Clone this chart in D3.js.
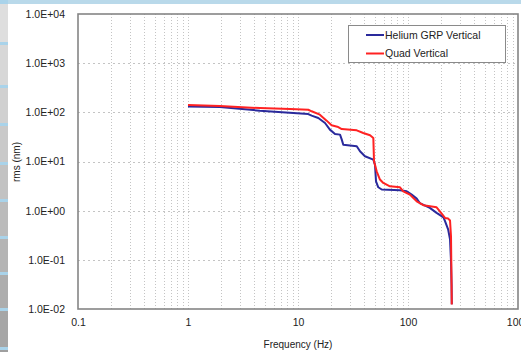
<!DOCTYPE html>
<html><head><meta charset="utf-8">
<script src="https://cdn.jsdelivr.net/npm/d3@7"></script>
<style>
html,body{margin:0;padding:0;background:#fff;}
svg{display:block;font-family:"Liberation Sans",Arial,sans-serif;}
</style></head>
<body>
<svg id="c" width="521" height="352"></svg>
<script>
// ---- data ----
const seriesNames = ["Helium GRP Vertical", "Quad Vertical"];
const heliumFreq = [1, 1.95, 4.5, 9.06, 12.4, 13.3, 15.3, 17.6, 19.5, 21.7, 24.1, 25.0, 25.8, 34.2, 36.6, 40.6, 48.4, 50.1, 51.2, 53.7, 57.7, 84.6, 97.3, 108, 120, 128, 158, 182, 210, 217, 232, 241, 246, 249, 250];
const heliumRms  = [131, 129, 108, 96.8, 92.3, 85.7, 76.6, 60.6, 44.5, 36.2, 35.2, 27.9, 22.0, 20.4, 16.1, 12.8, 10.9, 8.65, 3.96, 2.99, 2.69, 2.60, 2.48, 2.12, 1.76, 1.43, 1.14, 0.90, 0.73, 0.61, 0.41, 0.26, 0.094, 0.03, 0.0125];
const quadFreq = [1, 1.95, 4.5, 8.46, 12.4, 13.3, 15.8, 18.2, 20.2, 23.2, 25.0, 34.2, 39.2, 45.2, 48.4, 49.1, 51.9, 55.6, 59.6, 68.5, 84.6, 90.6, 104, 120, 138, 182, 195, 217, 232, 241, 246, 250];
const quadRms  = [141, 134, 122, 117, 113, 105, 89.8, 67.8, 54.4, 50.2, 45.8, 43.1, 38.0, 34.1, 30.1, 10.1, 6.32, 4.29, 3.66, 3.13, 2.99, 2.48, 2.12, 1.55, 1.29, 1.17, 0.97, 0.71, 0.69, 0.63, 0.3, 0.0123];
const xTickValues = [0.1, 1, 10, 100, 1000];
const xTickLabels = ["0.1", "1", "10", "100", "1000"];
const yTickValues = [0.01, 0.1, 1, 10, 100, 1000, 10000];
const yTickLabels = ["1.0E-02", "1.0E-01", "1.0E+00", "1.0E+01", "1.0E+02", "1.0E+03", "1.0E+04"];
const xTitle = "Frequency (Hz)";
const yTitle = "rms (nm)";
const colors = ["#2a2a9c", "#ff2222"];

// ---- drawing ----
const svg = d3.select("#c");
const L = 78, R = 518, T = 14, B = 309;

// slide decoration: left strip and top bar
svg.append("rect").attr("x",0).attr("y",0).attr("width",521).attr("height",4).attr("fill","#b9d9ea");
const sepY = [0, 43, 86, 124, 163, 200, 237, 273, 309, 348, 352];
for (let i = 0; i < sepY.length - 1; i++) {
  const g = 222 - i * 7;
  svg.append("rect").attr("x",0).attr("y",sepY[i]).attr("width",8).attr("height",sepY[i+1]-sepY[i])
    .attr("fill", d3.rgb(g, g, g));
  if (i > 0) svg.append("rect").attr("x",0).attr("y",sepY[i]-1).attr("width",8).attr("height",3).attr("fill","#a9d3ea");
}
svg.append("rect").attr("x",0).attr("y",0).attr("width",8).attr("height",4).attr("fill","#a9d3ea");

const x = d3.scaleLog().domain([0.1, 1000]).range([L, R]);
const y = d3.scaleLog().domain([0.01, 10000]).range([B, T]);

// grid
const grid = svg.append("g");
const xMinor = [];
for (let d = 0.1; d < 1000; d *= 10) for (let k = 1; k <= 9; k++) xMinor.push(+(d * k).toPrecision(3));
xMinor.push(1000);
grid.selectAll("line.vx").data(xMinor.filter(v => v > 0.1 && v < 1000)).join("line")
  .attr("x1", d => Math.round(x(d)) + 0.5).attr("x2", d => Math.round(x(d)) + 0.5)
  .attr("y1", T).attr("y2", B)
  .attr("stroke", "#c4c4c4").attr("stroke-width", 1).attr("stroke-dasharray", "1,2");
grid.selectAll("line.hy").data(yTickValues.slice(1, -1)).join("line")
  .attr("x1", L).attr("x2", R)
  .attr("y1", d => Math.round(y(d)) + 0.5).attr("y2", d => Math.round(y(d)) + 0.5)
  .attr("stroke", "#c4c4c4").attr("stroke-width", 1).attr("stroke-dasharray", "2,3");

// axes (labels only)
const xAxis = d3.axisBottom(x).tickValues(xTickValues).tickSize(0).tickPadding(10)
  .tickFormat((d, i) => xTickLabels[i]);
const gx = svg.append("g").attr("transform", `translate(0,${B})`).call(xAxis);
gx.select(".domain").remove();
gx.selectAll("text").attr("font-size", "10.5px").attr("fill", "#222").attr("font-family", "Liberation Sans, Arial, sans-serif");

const yAxis = d3.axisLeft(y).tickValues(yTickValues).tickSize(0).tickPadding(13)
  .tickFormat((d, i) => yTickLabels[i]);
const gy = svg.append("g").attr("transform", `translate(${L},0)`).call(yAxis);
gy.select(".domain").remove();
gy.selectAll("text").attr("font-size", "10.5px").attr("fill", "#222").attr("font-family", "Liberation Sans, Arial, sans-serif");

// frame
svg.append("rect").attr("x", L).attr("y", T).attr("width", R - L).attr("height", B - T)
  .attr("fill", "none").attr("stroke", "#858585").attr("stroke-width", 1.6);

// lines
const line = d3.line().x(d => x(d[0])).y(d => y(d[1]));
const series = [d3.zip(heliumFreq, heliumRms), d3.zip(quadFreq, quadRms)];
series.forEach((s, i) => {
  svg.append("path").datum(s).attr("d", line).attr("fill", "none")
    .attr("stroke", colors[i]).attr("stroke-width", 2).attr("stroke-linejoin", "round");
});

// titles
svg.append("text").attr("x", 298).attr("y", 348).attr("text-anchor", "middle")
  .attr("font-size", "10px").attr("fill", "#222").text(xTitle);
svg.append("text").attr("transform", "translate(20,162) rotate(-90)").attr("text-anchor", "middle")
  .attr("font-size", "10px").attr("fill", "#222").text(yTitle);

// legend
const lg = svg.append("g");
lg.append("rect").attr("x", 348.5).attr("y", 25.5).attr("width", 157).attr("height", 37)
  .attr("fill", "#fff").attr("stroke", "#8a8a8a").attr("stroke-width", 1);
seriesNames.forEach((n, i) => {
  const yy = 35 + i * 18.5;
  lg.append("line").attr("x1", 366).attr("x2", 384).attr("y1", yy).attr("y2", yy)
    .attr("stroke", colors[i]).attr("stroke-width", 2);
  lg.append("text").attr("x", 385).attr("y", yy + 3.8).attr("font-size", "10.5px").attr("fill", "#222").text(n);
});
</script>
</body></html>
